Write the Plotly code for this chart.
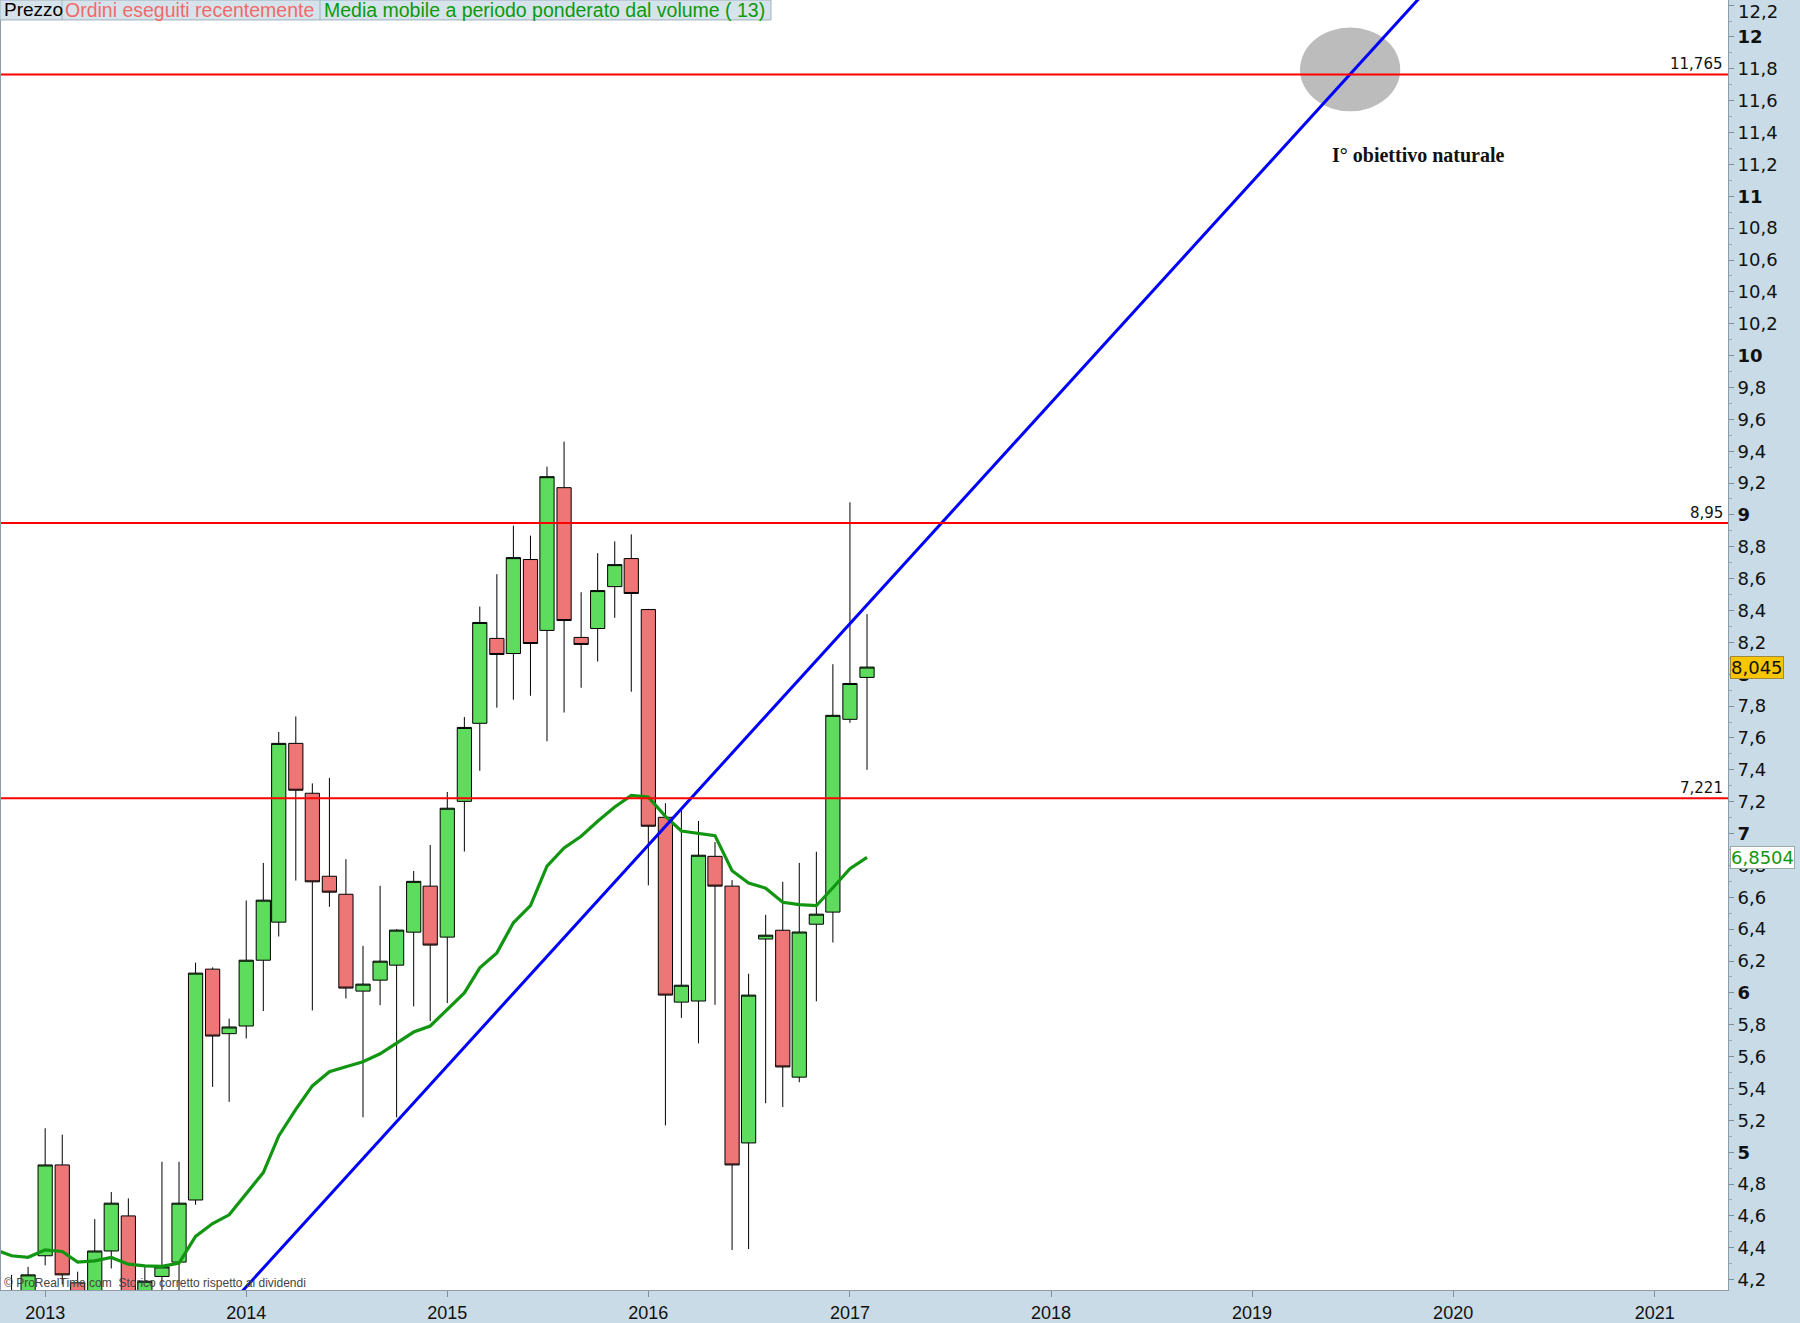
import plotly.graph_objects as go
import pandas as pd

# ---------------- data ----------------
months = pd.date_range("2012-11-01", periods=52, freq="MS")

opens = [3.90, 4.05, 4.35, 4.92, 4.18, 4.00, 4.38, 4.60, 4.05, 4.22, 4.31, 4.70,
         6.149, 5.744, 5.792, 6.205, 6.444, 7.566, 7.253, 6.732, 6.619, 6.011, 6.08, 6.174,
         6.381, 6.67, 6.35, 7.202, 7.692, 8.225, 8.13, 8.72, 8.275, 9.171, 8.231, 8.287,
         8.55, 8.726, 8.406, 7.102, 5.942, 5.949, 6.857, 6.67, 5.058, 6.338, 6.393, 5.471,
         6.431, 6.507, 7.717, 7.98]
highs = [4.23, 4.28, 5.15, 5.11, 4.25, 4.58, 4.75, 4.71, 4.28, 4.94, 4.94, 6.19,
         6.16, 5.838, 6.58, 6.816, 7.637, 7.735, 7.315, 7.349, 6.839, 6.295, 6.672, 6.40,
         6.765, 6.928, 7.261, 7.731, 8.425, 8.628, 8.933, 8.87, 9.303, 9.46, 8.515, 8.76,
         8.834, 8.878, 8.41, 7.191, 7.145, 7.079, 6.947, 6.708, 6.12, 6.49, 6.697, 6.816,
         6.886, 8.063, 9.079, 8.377]
lows = [3.80, 3.98, 4.29, 4.17, 3.90, 3.95, 4.27, 3.95, 3.98, 4.05, 4.08, 4.67,
        5.41, 5.316, 5.714, 5.886, 6.354, 6.705, 5.89, 6.54, 5.965, 5.219, 5.923, 5.219,
        5.915, 5.823, 5.936, 6.887, 7.394, 7.79, 7.84, 7.865, 7.579, 7.76, 7.915, 8.08,
        8.354, 7.89, 6.675, 5.168, 5.843, 5.683, 5.925, 4.386, 4.392, 5.307, 5.283, 5.439,
        5.947, 6.316, 7.695, 7.40]
closes = [4.05, 4.23, 4.92, 4.23, 3.95, 4.38, 4.68, 4.05, 4.19, 4.28, 4.68, 6.124,
          5.729, 5.786, 6.205, 6.582, 7.566, 7.272, 6.697, 6.632, 6.03, 6.055, 6.199, 6.394,
          6.70, 6.30, 7.159, 7.666, 8.325, 8.124, 8.732, 8.193, 9.24, 8.337, 8.187, 8.525,
          8.688, 8.507, 7.046, 5.986, 6.048, 6.864, 6.67, 4.92, 5.986, 6.362, 5.535, 6.382,
          6.494, 7.742, 7.942, 8.045]

vwma_dates = pd.date_range("2012-10-01", periods=53, freq="MS")
vwma_values = [4.39, 4.35, 4.34, 4.387, 4.377, 4.31, 4.318, 4.339, 4.297, 4.287, 4.283, 4.304,
               4.471, 4.552, 4.607, 4.742, 4.872, 5.102, 5.269, 5.416, 5.505, 5.536, 5.568,
               5.618, 5.687, 5.754, 5.792, 5.896, 6.0, 6.157, 6.251, 6.44, 6.548, 6.795, 6.91,
               6.983, 7.077, 7.167, 7.24, 7.229, 7.108, 7.016, 7.003, 6.987, 6.767, 6.69, 6.657,
               6.569, 6.554, 6.547, 6.66, 6.78, 6.8504]

level_values = [11.765, 8.95, 7.221]
level_labels = ["11,765", "8,95", "7,221"]

trend_dates = ["2013-12-01", "2019-12-01"]
trend_values = [4.037, 12.359]

target_x = ["2019-03-29", "2019-09-27"]
target_y = [11.533, 12.059]
target_text = "I° obiettivo naturale"
target_text_date = "2019-10-30"
target_text_value = 11.261

last_price = 8.045
last_price_label = "8,045"
last_vwma_label = "6,8504"

year_ticks = [f"{y}-01-01" for y in range(2013, 2022)]
year_labels = [str(y) for y in range(2013, 2022)]
price_ticks = [round(4.2 + 0.2 * i, 1) for i in range(41)]
Y_MIN, Y_MAX = 4.135, 12.232


def fmt(v):
    if abs(v - round(v)) < 1e-9:
        return f"<b>{int(round(v))}</b>"
    return f"{v:.1f}".replace(".", ",")


price_labels = [fmt(v) for v in price_ticks]
top_label = price_labels[-1]
price_labels[-1] = ""          # top label drawn separately so it is not clipped
minor_ticks = [round(4.1 + 0.2 * i, 1) for i in range(42)]

# ---------------- layout geometry ----------------
W, H = 1800, 1323
ML, MR, MT, MB = 0, 72, 0, 28
PW, PH = W - ML - MR, H - MT - MB


def px(x):
    return x / PW


def py(y):
    return 1 - y / PH


fig = go.Figure()

fig.add_trace(go.Candlestick(
    x=months, open=opens, high=highs, low=lows, close=closes,
    increasing=dict(fillcolor="#5ddc5d", line=dict(color="black", width=1)),
    decreasing=dict(fillcolor="#ee7676", line=dict(color="black", width=1)),
    whiskerwidth=0, hoverinfo="skip", showlegend=False,
))

fig.add_trace(go.Scatter(
    x=vwma_dates, y=vwma_values, mode="lines",
    line=dict(color="#129612", width=3.2), hoverinfo="skip", showlegend=False,
))

fig.add_trace(go.Scatter(
    x=trend_dates, y=trend_values, mode="lines",
    line=dict(color="#0000ff", width=3), hoverinfo="skip", showlegend=False,
))

shapes = []
shapes.append(dict(type="circle", xref="x", yref="y", x0=target_x[0], x1=target_x[1],
                   y0=target_y[0], y1=target_y[1], fillcolor="#bcbcbc",
                   line=dict(width=0), layer="below"))
for v in level_values:
    shapes.append(dict(type="line", xref="paper", yref="y", x0=0, x1=1, y0=v, y1=v,
                       line=dict(color="#ff0000", width=2), layer="above"))
shapes.append(dict(type="line", xref="paper", yref="paper", x0=0, x1=0, y0=0, y1=1,
                   line=dict(color="#8d9ca8", width=2)))
shapes.append(dict(type="rect", xref="paper", yref="paper", x0=px(0), x1=px(771),
                   y0=py(20), y1=py(0), fillcolor="#d7e3eb",
                   line=dict(color="#9fb1be", width=1), layer="above"))
for sx in (62, 320):
    shapes.append(dict(type="line", xref="paper", yref="paper", x0=px(sx), x1=px(sx),
                       y0=py(20), y1=py(0), line=dict(color="#9fb1be", width=1),
                       layer="above"))

annotations = []
legend_items = [("Prezzo", "#000000", 2, 19), ("Ordini eseguiti recentemente", "#f06a6a", 63, 19.5),
                ("Media mobile a periodo ponderato dal volume ( 13)", "#0a9a0a", 322, 19.5)]
for txt, col, x0, fs in legend_items:
    annotations.append(dict(text=txt, xref="paper", yref="paper", x=px(x0), y=py(10),
                            xanchor="left", yanchor="middle", showarrow=False,
                            font=dict(family="Liberation Sans", size=fs, color=col)))

for v, lab in zip(level_values, level_labels):
    annotations.append(dict(text=lab, xref="paper", yref="y", x=1, y=v, xanchor="right",
                            yanchor="bottom", xshift=-3, yshift=-1, showarrow=False,
                            font=dict(family="DejaVu Sans", size=15, color="#111")))

annotations.append(dict(text=f"<b>{target_text}</b>", xref="x", yref="y",
                        x=target_text_date, y=target_text_value, showarrow=False,
                        font=dict(family="Liberation Serif", size=20, color="#111")))

annotations.append(dict(text=top_label, xref="paper", yref="paper", x=1, y=1,
                        xanchor="left", yanchor="top", xshift=8, yshift=1, showarrow=False,
                        font=dict(family="DejaVu Sans", size=18, color="#111")))

annotations.append(dict(text=last_price_label, xref="paper", yref="y", x=1, y=last_price,
                        xanchor="left", yanchor="middle", xshift=2, showarrow=False,
                        bgcolor="#f7c600", bordercolor="#a08a40", borderwidth=1, borderpad=0,
                        font=dict(family="DejaVu Sans", size=18, color="#111")))
annotations.append(dict(text=last_vwma_label, xref="paper", yref="y", x=1, y=vwma_values[-1],
                        xanchor="left", yanchor="middle", xshift=2, showarrow=False,
                        bgcolor="#ffffff", bordercolor="#9aa", borderwidth=1, borderpad=0,
                        font=dict(family="DejaVu Sans", size=18, color="#129612")))

annotations.append(dict(text="© ProRealTime.com  Storico corretto rispetto ai dividendi",
                        xref="paper", yref="paper", x=px(2), y=py(1288), xanchor="left",
                        yanchor="middle", showarrow=False,
                        font=dict(family="Liberation Sans", size=12, color="#444")))

fig.update_layout(
    width=W, height=H,
    margin=dict(l=ML, r=MR, t=MT, b=MB),
    paper_bgcolor="#c9dbe6", plot_bgcolor="#ffffff",
    boxgap=0.04, boxgroupgap=0.04,
    shapes=shapes, annotations=annotations,
    showlegend=False,
    xaxis=dict(type="date", range=["2012-10-11", "2021-05-14"],
               tickmode="array", tickvals=year_ticks, ticktext=year_labels,
               ticks="outside", ticklen=6, tickcolor="#7f8f9b",
               showgrid=False, zeroline=False, showline=True, linecolor="#8d9ca8",
               linewidth=1, rangeslider=dict(visible=False), fixedrange=True,
               tickfont=dict(family="Liberation Sans", size=18, color="#111")),
    yaxis=dict(side="right", range=[Y_MIN, Y_MAX], tickmode="array",
               tickvals=price_ticks, ticktext=price_labels,
               ticks="outside", ticklen=5, tickcolor="#7f8f9b",
               minor=dict(tickmode="array", tickvals=minor_ticks, ticks="outside",
                          ticklen=3, tickcolor="#9aa9b4"),
               showgrid=False, zeroline=False, showline=True, linecolor="#8d9ca8",
               linewidth=1, fixedrange=True,
               tickfont=dict(family="DejaVu Sans", size=18, color="#111")),
)

fig.write_html("out.html", config={"displayModeBar": False},
               post_script="document.body.style.margin='0';document.body.style.overflow='hidden';")
